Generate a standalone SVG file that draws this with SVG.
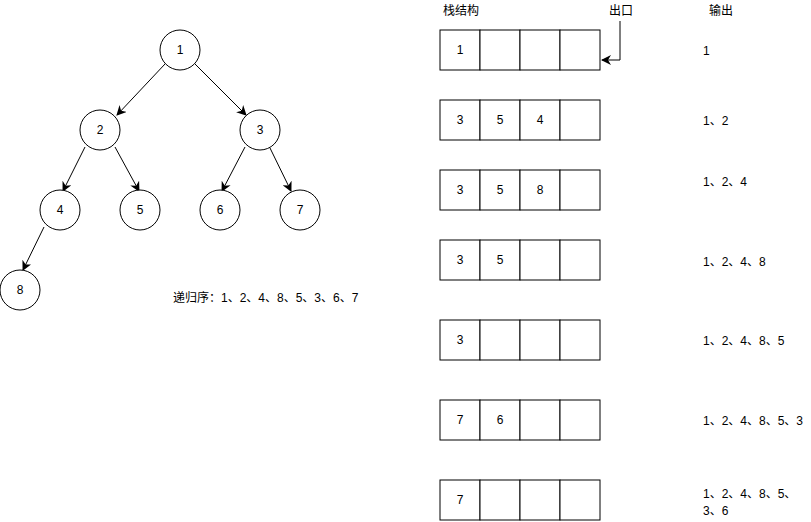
<svg xmlns="http://www.w3.org/2000/svg" width="811" height="522" viewBox="0 0 811 522">
  <style>
    text { font-family: "Liberation Sans", "Noto Sans CJK SC", sans-serif; font-size: 12px; fill: #000; }
    .c { text-anchor: middle; dominant-baseline: central; }
    circle, rect.cell { fill: #fff; stroke: #000; stroke-width: 1; }
    .edge { fill: none; stroke: #000; stroke-width: 1; }
  </style>
  <defs>
    <marker id="arrow" viewBox="0 0 10 10" refX="9" refY="5" markerWidth="10" markerHeight="10" markerUnits="userSpaceOnUse" orient="auto">
      <path d="M0,0 L10,5 L0,10 L3,5 Z" fill="#000"/>
    </marker>
  </defs>
  <rect width="811" height="522" fill="#fff"/>

  <!-- tree edges -->
  <g id="edges">
    <line class="edge" x1="165" y1="64" x2="117" y2="115" marker-end="url(#arrow)"/>
    <line class="edge" x1="195" y1="64" x2="246" y2="115" marker-end="url(#arrow)"/>
    <line class="edge" x1="85" y1="147" x2="63" y2="191" marker-end="url(#arrow)"/>
    <line class="edge" x1="115" y1="147" x2="139" y2="191" marker-end="url(#arrow)"/>
    <line class="edge" x1="245" y1="147" x2="222" y2="191" marker-end="url(#arrow)"/>
    <line class="edge" x1="270" y1="148" x2="291" y2="191" marker-end="url(#arrow)"/>
    <line class="edge" x1="44" y1="227" x2="23" y2="270" marker-end="url(#arrow)"/>
    <polyline class="edge" points="620,21 620,60 602,60" marker-end="url(#arrow)"/>
  </g>

  <!-- tree nodes -->
  <g id="n1"><circle cx="180" cy="50" r="20"/><text class="c" x="180" y="50">1</text></g>
  <g id="n2"><circle cx="100" cy="130" r="20"/><text class="c" x="100" y="130">2</text></g>
  <g id="n3"><circle cx="260" cy="130" r="20"/><text class="c" x="260" y="130">3</text></g>
  <g id="n4"><circle cx="60" cy="210" r="20"/><text class="c" x="60" y="210">4</text></g>
  <g id="n5"><circle cx="140" cy="210" r="20"/><text class="c" x="140" y="210">5</text></g>
  <g id="n6"><circle cx="220" cy="210" r="20"/><text class="c" x="220" y="210">6</text></g>
  <g id="n7"><circle cx="300" cy="210" r="20"/><text class="c" x="300" y="210">7</text></g>
  <g id="n8"><circle cx="20" cy="290" r="20"/><text class="c" x="20" y="290">8</text></g>

  <g id="order"><text x="173" y="302">递归序：1、2、4、8、5、3、6、7</text></g>

  <!-- headers -->
  <g id="headers">
    <text x="443" y="15">栈结构</text>
    <text x="609" y="15">出口</text>
    <text x="709" y="15">输出</text>
  </g>

  <!-- stack snapshots -->
  <g id="stack1" transform="translate(440,30)">
    <rect class="cell" x="0" y="0" width="40" height="40"/><rect class="cell" x="40" y="0" width="40" height="40"/>
    <rect class="cell" x="80" y="0" width="40" height="40"/><rect class="cell" x="120" y="0" width="40" height="40"/>
    <text class="c" x="20" y="20">1</text>
  </g>
  <g id="stack2" transform="translate(440,100)">
    <rect class="cell" x="0" y="0" width="40" height="40"/><rect class="cell" x="40" y="0" width="40" height="40"/>
    <rect class="cell" x="80" y="0" width="40" height="40"/><rect class="cell" x="120" y="0" width="40" height="40"/>
    <text class="c" x="20" y="20">3</text><text class="c" x="60" y="20">5</text><text class="c" x="100" y="20">4</text>
  </g>
  <g id="stack3" transform="translate(440,170)">
    <rect class="cell" x="0" y="0" width="40" height="40"/><rect class="cell" x="40" y="0" width="40" height="40"/>
    <rect class="cell" x="80" y="0" width="40" height="40"/><rect class="cell" x="120" y="0" width="40" height="40"/>
    <text class="c" x="20" y="20">3</text><text class="c" x="60" y="20">5</text><text class="c" x="100" y="20">8</text>
  </g>
  <g id="stack4" transform="translate(440,240)">
    <rect class="cell" x="0" y="0" width="40" height="40"/><rect class="cell" x="40" y="0" width="40" height="40"/>
    <rect class="cell" x="80" y="0" width="40" height="40"/><rect class="cell" x="120" y="0" width="40" height="40"/>
    <text class="c" x="20" y="20">3</text><text class="c" x="60" y="20">5</text>
  </g>
  <g id="stack5" transform="translate(440,320)">
    <rect class="cell" x="0" y="0" width="40" height="40"/><rect class="cell" x="40" y="0" width="40" height="40"/>
    <rect class="cell" x="80" y="0" width="40" height="40"/><rect class="cell" x="120" y="0" width="40" height="40"/>
    <text class="c" x="20" y="20">3</text>
  </g>
  <g id="stack6" transform="translate(440,400)">
    <rect class="cell" x="0" y="0" width="40" height="40"/><rect class="cell" x="40" y="0" width="40" height="40"/>
    <rect class="cell" x="80" y="0" width="40" height="40"/><rect class="cell" x="120" y="0" width="40" height="40"/>
    <text class="c" x="20" y="20">7</text><text class="c" x="60" y="20">6</text>
  </g>
  <g id="stack7" transform="translate(440,480)">
    <rect class="cell" x="0" y="0" width="40" height="40"/><rect class="cell" x="40" y="0" width="40" height="40"/>
    <rect class="cell" x="80" y="0" width="40" height="40"/><rect class="cell" x="120" y="0" width="40" height="40"/>
    <text class="c" x="20" y="20">7</text>
  </g>

  <!-- output column -->
  <g id="outputs">
    <text x="703" y="55">1</text>
    <text x="703" y="125">1、2</text>
    <text x="703" y="186">1、2、4</text>
    <text x="703" y="266">1、2、4、8</text>
    <text x="703" y="345">1、2、4、8、5</text>
    <text x="703" y="425">1、2、4、8、5、3</text>
    <text x="703" y="498">1、2、4、8、5、</text>
    <text x="703" y="515">3、6</text>
  </g>
</svg>
